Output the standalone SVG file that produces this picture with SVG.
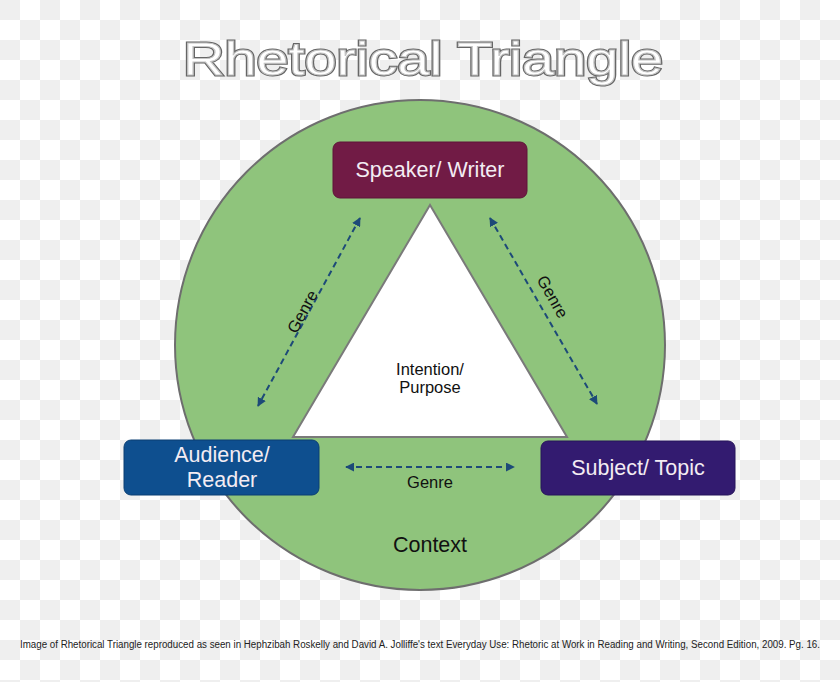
<svg xmlns="http://www.w3.org/2000/svg" width="840" height="682" viewBox="0 0 840 682">
<defs>
<pattern id="checker" width="40" height="40" patternUnits="userSpaceOnUse">
<rect width="40" height="40" fill="#ffffff"/>
<rect x="0" y="0" width="20" height="20" fill="#efefef"/>
<rect x="20" y="20" width="20" height="20" fill="#efefef"/>
</pattern>
<marker id="ah" viewBox="0 0 10 10" refX="9" refY="5" markerWidth="4.5" markerHeight="4.5" orient="auto-start-reverse" markerUnits="strokeWidth">
<path d="M0,0 L10,5 L0,10 z" fill="#1d4a78"/>
</marker>
<style>
.box-text{font-family:"Liberation Sans",Arial,sans-serif;font-size:21.5px;fill:#f3ecf3;text-anchor:middle}
.lbl{font-family:"Liberation Sans",Arial,sans-serif;fill:#111;text-anchor:middle}
.conn{stroke:#1d4a78;stroke-width:2;stroke-dasharray:6 4;fill:none;marker-start:url(#ah);marker-end:url(#ah)}
.title{font-family:"Liberation Sans",Arial,sans-serif;font-size:46px}
</style>
</defs>
<rect width="840" height="682" fill="url(#checker)"/>
<g id="title">
<text class="title" x="183" y="75" textLength="480" lengthAdjust="spacingAndGlyphs" fill="#fff" stroke="#666" stroke-width="3">Rhetorical Triangle</text>
<text class="title" x="183" y="75" textLength="480" lengthAdjust="spacingAndGlyphs" fill="#fff" stroke="#c4c4c4" stroke-width="1">Rhetorical Triangle</text>
</g>
<g id="context">
<circle cx="420" cy="345" r="245" fill="#8fc47c" stroke="#6e6e6e" stroke-width="2"/>
<text class="lbl" x="430" y="552" font-size="21.5">Context</text>
</g>
<g id="purpose">
<polygon points="430,205 293,437 567,437" fill="#ffffff" stroke="#7a7a7a" stroke-width="2"/>
<text class="lbl" x="430" y="375" font-size="16.5">Intention/</text>
<text class="lbl" x="430" y="393" font-size="16.5">Purpose</text>
</g>
<g id="connectors">
<line class="conn" x1="360" y1="218" x2="258" y2="406"/>
<line class="conn" x1="490" y1="218" x2="597" y2="404"/>
<line class="conn" x1="346" y1="467" x2="514" y2="467"/>
<text class="lbl" font-size="16.5" transform="translate(303,312) rotate(-61.5)" y="5">Genre</text>
<text class="lbl" font-size="16.5" transform="translate(552,297) rotate(60.5)" y="5">Genre</text>
<text class="lbl" font-size="16.5" x="430" y="488">Genre</text>
</g>
<g id="speaker">
<rect x="333" y="142" width="194" height="56" rx="7" fill="#711b45" stroke="#5e1538" stroke-width="1"/>
<text class="box-text" x="430" y="177">Speaker/ Writer</text>
</g>
<g id="audience">
<rect x="124" y="440" width="195" height="55" rx="7" fill="#0e4f8f" stroke="#0a3f73" stroke-width="1"/>
<text class="box-text" x="222" y="462">Audience/</text>
<text class="box-text" x="222" y="487">Reader</text>
</g>
<g id="subject">
<rect x="541" y="441" width="194" height="54" rx="7" fill="#331b70" stroke="#27145a" stroke-width="1"/>
<text class="box-text" x="638" y="475">Subject/ Topic</text>
</g>
<g id="caption">
<text x="20" y="648" font-family="'Liberation Sans',Arial,sans-serif" font-size="10" fill="#222" textLength="800" lengthAdjust="spacingAndGlyphs">Image of Rhetorical Triangle reproduced as seen in Hephzibah Roskelly and David A. Jolliffe's text Everyday Use: Rhetoric at Work in Reading and Writing, Second Edition, 2009. Pg. 16.</text>
</g>
</svg>
